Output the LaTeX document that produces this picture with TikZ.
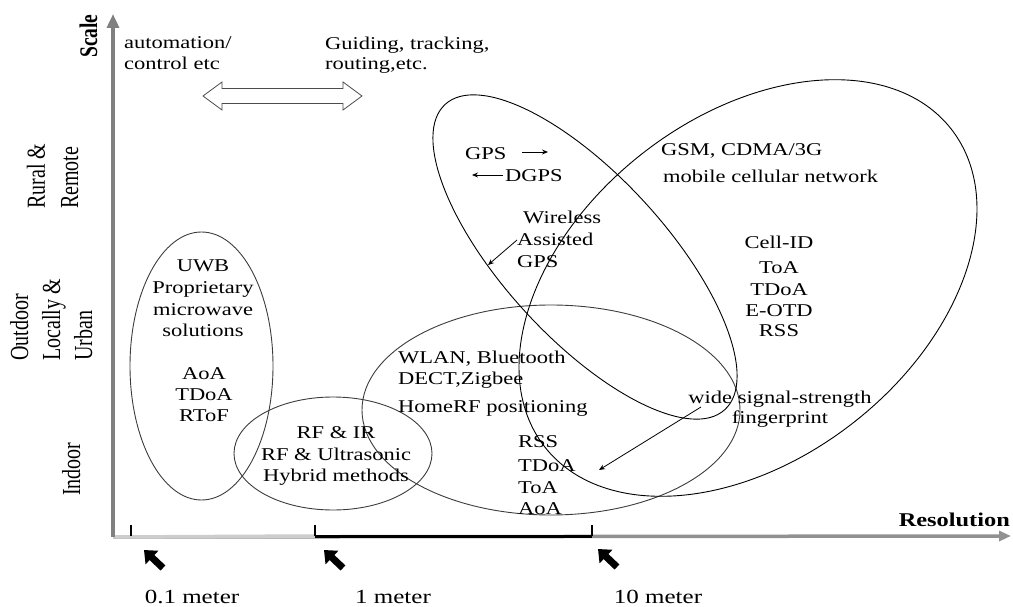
\documentclass[tikz,border=0pt]{standalone}
\usepackage{fontspec}
\setmainfont{Liberation Serif}[FakeStretch=1.25]
\newfontfamily\rotfont{Liberation Serif}
\usetikzlibrary{arrows.meta}
\definecolor{axisgray}{RGB}{128,128,128}
\definecolor{axislight}{RGB}{205,205,205}
\definecolor{axismid}{RGB}{145,145,145}
\definecolor{ellgray}{RGB}{60,60,60}
\begin{document}
\begin{tikzpicture}[x=1pt,y=1pt,
  txt/.style={inner sep=0pt, anchor=base west, font=\fontsize{18}{22}\selectfont},
  ctxt/.style={inner sep=0pt, anchor=base, font=\fontsize{18}{22}\selectfont},
  btxt/.style={inner sep=0pt, anchor=base, font=\fontsize{20}{24}\selectfont},
  rot/.style={inner sep=0pt, anchor=base west, rotate=90, font=\fontsize{20}{24}\selectfont\rotfont},
  ellb/.style={draw=black, line width=0.9pt},
  ellg/.style={draw=ellgray, line width=0.9pt},
  thinarrow/.style={line width=0.8pt, -{Stealth[length=6pt,width=5pt]}},
  fatarrow/.style={line width=7pt, -{Triangle[length=11pt,width=18pt]}},
]
\useasboundingbox (0,0) rectangle (1013,-607);

% axes
\coordinate (O) at (113,-537);
\coordinate (ytop) at (113,-14);
\coordinate (xend) at (1011,-536);
\coordinate (t0) at (131,-536);
\coordinate (t0u) at (131,-525);
\coordinate (t1) at (315,-536);
\coordinate (t1u) at (315,-525);
\coordinate (t2) at (592,-536);
\coordinate (t2u) at (592,-525);
\draw[axismid, line width=3.5pt, -{Triangle[length=12pt,width=10pt]}] (O) -- (xend);
\draw[axislight, line width=3.5pt] (O) -- (t1);
\draw[axisgray, line width=4pt, -{Triangle[length=14pt,width=12pt]}] (O) -- (ytop);
\draw[black, line width=3pt] (t1) -- (t2);
\draw[black, line width=2pt] (t0) -- (t0u);
\draw[black, line width=2.5pt] (t1) -- (t1u);
\draw[black, line width=2.5pt] (t2) -- (t2u);

% fat arrows
\coordinate (fa1s) at (163,-568); \coordinate (fa1e) at (144,-550);
\coordinate (fa2s) at (343,-568); \coordinate (fa2e) at (324,-550);
\coordinate (fa3s) at (617,-567); \coordinate (fa3e) at (598,-549);
\draw[fatarrow] (fa1s) -- (fa1e);
\draw[fatarrow] (fa2s) -- (fa2e);
\draw[fatarrow] (fa3s) -- (fa3e);

% double hollow arrow
\draw[fill=white, draw=black!70, line width=0.8pt]
  (203,-96) -- (222,-82) -- (222,-88.5) -- (343,-88.5) -- (343,-82) -- (362,-96)
  -- (343,-110) -- (343,-103.5) -- (222,-103.5) -- (222,-110) -- cycle;

% ellipses
\draw[ellg] (201.5,-366) ellipse [x radius=71.5, y radius=134];
\draw[ellg] (333,-453.5) ellipse [x radius=99, y radius=56.5];
\draw[ellg] (551,-410) ellipse [x radius=189, y radius=105];
\draw[ellb, rotate around={-47.5:(585,-257)}] (585,-257) ellipse [x radius=207, y radius=81];
\draw[ellb, rotate around={38:(748,-288)}] (748,-288) ellipse [x radius=258, y radius=171];

% axis labels
\node[rot, font=\fontsize{19.5}{24}\selectfont\rotfont\bfseries] (scale) at (97,-58) {\scalebox{1}[1.3]{Scale}};
\node[rot] (rural) at (45,-209) {\scalebox{1}[1.3]{Rural \&}};
\node[rot] (remote) at (78,-209) {\scalebox{1}[1.3]{Remote}};
\node[rot] (outdoor) at (28,-361) {\scalebox{1}[1.3]{Outdoor}};
\node[rot] (locally) at (60,-361) {\scalebox{1}[1.3]{Locally \&}};
\node[rot] (urban) at (92,-361) {\scalebox{1}[1.3]{Urban}};
\node[rot] (indoor) at (80,-496) {\scalebox{1}[1.3]{Indoor}};
\node[inner sep=0pt, anchor=base east, font=\fontsize{19.5}{24}\selectfont\bfseries] (resol) at (1010,-526) {Resolution};

% top texts
\node[txt] (auto1) at (124,-49) {automation/};
\node[txt] (auto2) at (124,-70) {control etc};
\node[txt] (guide1) at (325,-50) {Guiding, tracking,};
\node[txt] (guide2) at (325,-70) {routing,etc.};

% UWB group
\node[ctxt] (uwb1) at (203,-271) {UWB};
\node[ctxt] (uwb2) at (203,-293) {Proprietary};
\node[ctxt] (uwb3) at (203,-315) {microwave};
\node[ctxt] (uwb4) at (203,-336) {solutions};
\node[ctxt] (uwb5) at (204,-379) {AoA};
\node[ctxt] (uwb6) at (204,-400) {TDoA};
\node[ctxt] (uwb7) at (204,-421) {RToF};

% RF group
\node[ctxt] (rf1) at (336,-438) {RF \& IR};
\node[ctxt] (rf2) at (336,-460) {RF \& Ultrasonic};
\node[ctxt] (rf3) at (336,-481) {Hybrid methods};

% GPS group
\node[txt] (gps) at (465,-160) {GPS};
\node[txt] (dgps) at (505,-182) {DGPS};
\coordinate (ga1) at (522,-152); \coordinate (ga2) at (548,-152);
\coordinate (da1) at (503,-175); \coordinate (da2) at (472,-175);
\draw[thinarrow] (ga1) -- (ga2);
\draw[thinarrow] (da1) -- (da2);
\node[txt] (wl1) at (523,-223) {Wireless};
\node[txt] (wl2) at (517,-245) {Assisted};
\node[txt] (wl3) at (517,-267) {GPS};
\coordinate (wa1) at (517,-240); \coordinate (wa2) at (488,-265);
\draw[thinarrow] (wa1) -- (wa2);

% GSM group
\node[txt] (gsm1) at (661,-156) {GSM, CDMA/3G};
\node[txt] (gsm2) at (663,-183) {mobile cellular network};
\node[ctxt] (c1) at (779,-248) {Cell-ID};
\node[ctxt] (c2) at (779,-273) {ToA};
\node[ctxt] (c3) at (779,-295) {TDoA};
\node[ctxt] (c4) at (779,-316) {E-OTD};
\node[ctxt] (c5) at (779,-336) {RSS};

% WLAN group
\node[txt] (w1) at (398,-363) {WLAN, Bluetooth};
\node[txt] (w2) at (398,-384) {DECT,Zigbee};
\node[txt] (w3) at (398,-412) {HomeRF positioning};
\node[txt] (r1) at (518,-447) {RSS};
\node[txt] (r2) at (518,-471) {TDoA};
\node[txt] (r3) at (518,-493) {ToA};
\node[txt] (r4) at (518,-514) {AoA};

% fingerprint
\node[ctxt] (fp1) at (780,-403) {wide signal-strength};
\node[ctxt] (fp2) at (780,-423) {fingerprint};
\coordinate (fa) at (701,-407); \coordinate (fb) at (599,-470);
\draw[thinarrow] (fa) -- (fb);

% bottom labels
\node[btxt] (m01) at (192,-603) {0.1 meter};
\node[btxt] (m1) at (393,-603) {1 meter};
\node[btxt] (m10) at (658,-603) {10 meter};
\end{tikzpicture}
\end{document}
